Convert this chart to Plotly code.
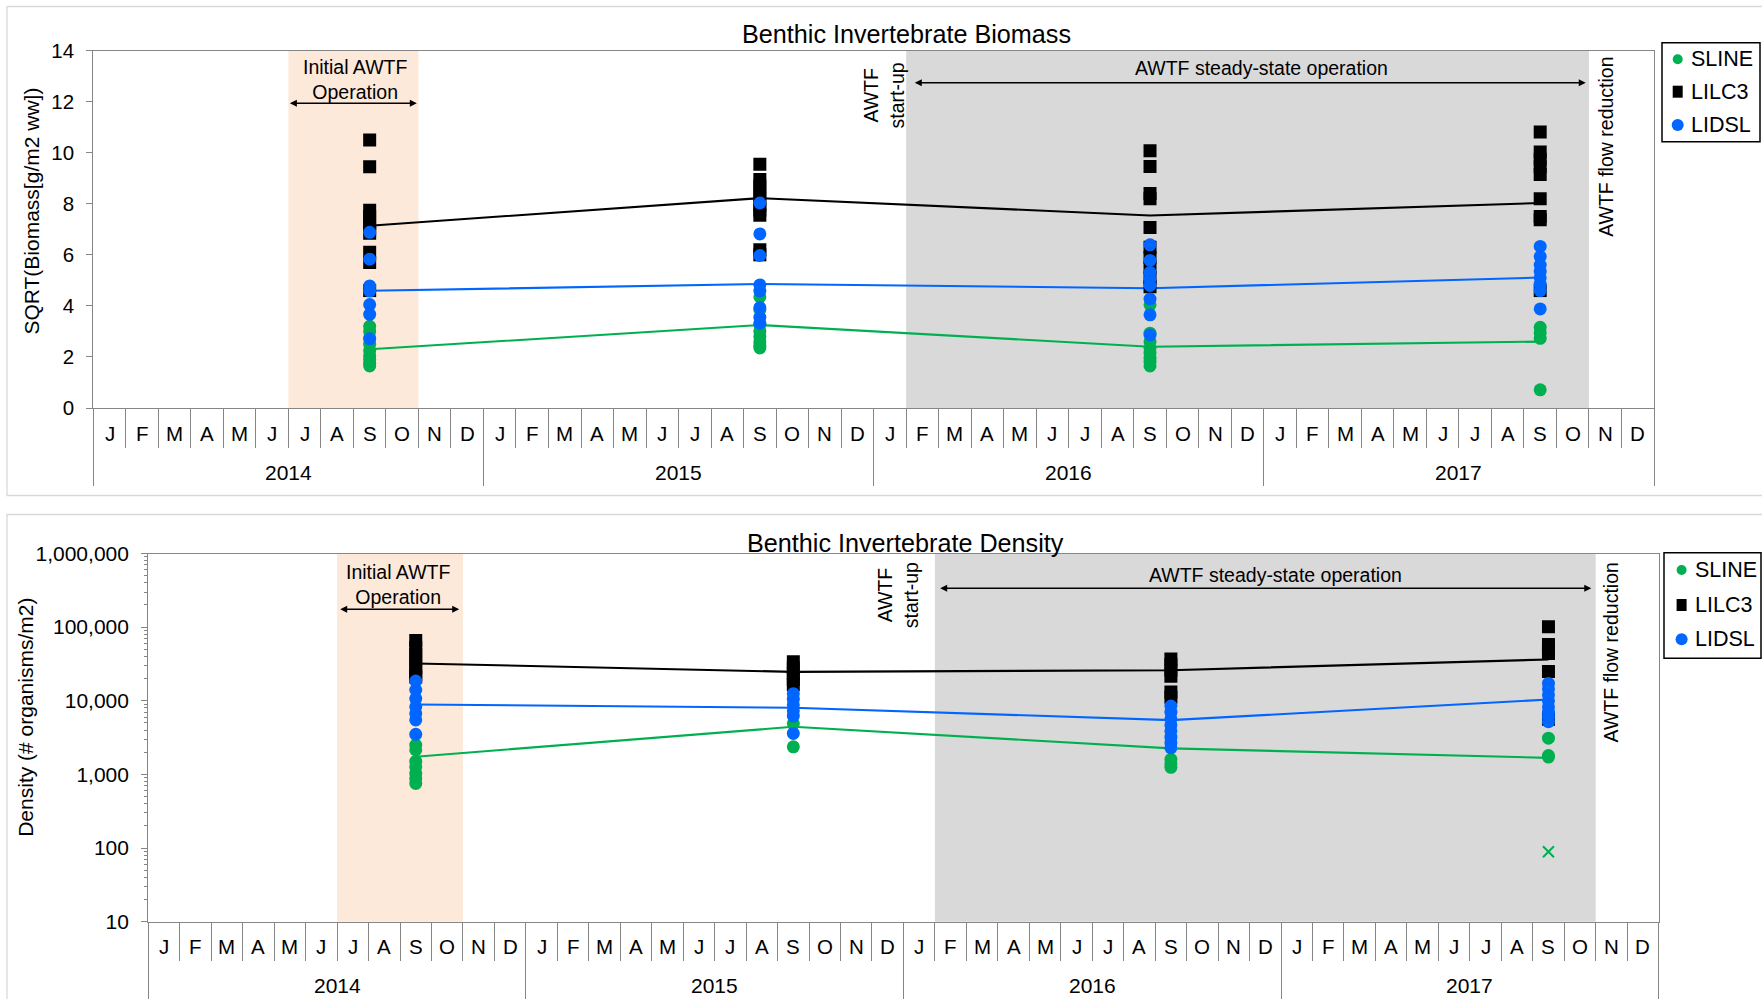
import plotly.graph_objects as go

W, H = 1762, 999
FONT = "Liberation Sans, Arial, sans-serif"

# ---------------------------------------------------------------- data
years = [2014, 2015, 2016, 2017]
month_labels = ["J", "F", "M", "A", "M", "J", "J", "A", "S", "O", "N", "D"]
sample_month = 9  # September survey

# operational periods, in months since Jan 2014 (start, end)
initial_operation = [6, 10]      # Jul-Oct 2014
steady_state = [25, 46]          # Feb 2016 - Oct 2017

series_names = ["SLINE", "LILC3", "LIDSL"]
series_colors = ["#00B050", "#000000", "#0066FF"]
series_symbols = ["circle", "square", "circle"]

# SQRT(biomass) per site, one list per survey year
biomass_sline = [
    [3.20, 3.00, 2.75, 2.50, 2.25, 2.05, 1.90, 1.75, 1.65],
    [4.35, 3.85, 3.25, 3.00, 2.80, 2.60, 2.45, 2.35],
    [4.04, 2.93, 2.60, 2.35, 2.15, 1.95, 1.80, 1.65],
    [3.16, 2.95, 2.73, 0.71],
]
biomass_lilc3 = [
    [10.50, 9.45, 7.75, 7.50, 7.25, 7.00, 6.85, 6.10, 5.70, 4.60],
    [9.55, 8.95, 8.70, 8.45, 8.20, 7.95, 7.75, 7.55, 6.20, 6.00],
    [10.08, 9.46, 8.40, 8.20, 7.07, 6.30, 5.90, 5.50, 5.10, 4.75],
    [10.81, 10.03, 9.75, 9.45, 9.15, 8.20, 7.50, 7.37, 4.60],
]
biomass_lidsl = [
    [6.88, 5.83, 4.78, 4.58, 4.05, 3.67, 2.71],
    [8.03, 6.82, 5.97, 4.82, 4.58, 3.93, 3.55, 3.32],
    [6.39, 5.78, 5.31, 5.05, 4.80, 4.27, 3.65, 2.86],
    [6.33, 5.93, 5.60, 5.35, 5.10, 4.85, 4.60, 3.88],
]
biomass_sline_mean = [2.30, 3.25, 2.40, 2.60]
biomass_lilc3_mean = [7.14, 8.22, 7.54, 8.03]
biomass_lidsl_mean = [4.59, 4.86, 4.69, 5.11]

# density (# organisms/m2) per site, one list per survey year
density_sline = [
    [2500, 2150, 1500, 1270, 1030, 880, 755],
    [4900, 2370],
    [1600, 1400, 1250],
    [3110, 1800, 1720],
]
density_lilc3 = [
    [66000, 53000, 43000, 35000, 28500, 23000, 21000],
    [34000, 28000, 23500, 19500, 16500],
    [37000, 31000, 26000, 21500, 13200, 11200],
    [101000, 58000, 50000, 44000, 25000, 5600],
]
density_lidsl = [
    [18500, 14000, 10700, 8300, 6700, 5500, 3500],
    [12500, 10500, 8800, 7300, 6200, 3600],
    [8500, 7000, 5700, 4700, 3900, 3200, 2700, 2300],
    [17200, 14500, 12000, 10000, 8300, 7000, 6000, 5200],
]
density_sline_mean = [1740, 4440, 2260, 1680]
density_lilc3_mean = [32100, 24700, 26000, 36400]
density_lidsl_mean = [8920, 8030, 5460, 10400]
density_sline_flag_year = [2017]
density_sline_flag_value = [89]

# ---------------------------------------------------------------- layout helpers
def px(x):
    return x / W


def py(y):
    return 1 - y / H


def month_pos(year):
    return (year - years[0]) * 12 + (sample_month - 1) + 0.5


AXIS_GRAY = "#868686"
N_MONTHS = 12 * len(years)

# pixel frames of the two plot areas: (left, top, right, bottom)
frames = {
    "top": (93.3, 50.6, 1654.0, 408.0),
    "bot": (148.3, 553.5, 1658.6, 921.7),
}

fig = go.Figure()


def add_series(xa, ya, samples, means, name, color, symbol):
    xs, ys = [], []
    for yr, vals in zip(years, samples):
        xs += [month_pos(yr)] * len(vals)
        ys += vals
    fig.add_trace(go.Scatter(
        x=[month_pos(yr) for yr in years], y=means, mode="lines",
        line=dict(color=color, width=2.1), xaxis=xa, yaxis=ya,
        showlegend=False, hoverinfo="skip"))
    return dict(x=xs, y=ys, mode="markers", name=name, xaxis=xa, yaxis=ya,
                marker=dict(color=color, symbol=symbol, size=13,
                            line=dict(width=0)), showlegend=False)


for xa, ya, groups in [
    ("x", "y", [(biomass_sline, biomass_sline_mean),
                (biomass_lilc3, biomass_lilc3_mean),
                (biomass_lidsl, biomass_lidsl_mean)]),
    ("x2", "y2", [(density_sline, density_sline_mean),
                  (density_lilc3, density_lilc3_mean),
                  (density_lidsl, density_lidsl_mean)]),
]:
    marker_traces = []
    for (samples, means), name, color, sym in zip(groups, series_names,
                                                   series_colors, series_symbols):
        marker_traces.append(add_series(xa, ya, samples, means, name, color, sym))
    for t in marker_traces:
        fig.add_trace(go.Scatter(**t))

fig.add_trace(go.Scatter(
    x=[month_pos(yr) for yr in density_sline_flag_year],
    y=density_sline_flag_value, mode="markers", xaxis="x2", yaxis="y2",
    marker=dict(symbol="x-thin", size=11, line=dict(color="#00B050", width=2)),
    showlegend=False))


def xaxis_cfg(frame, year_ticklen):
    l, t, r, b = frame
    return dict(
        domain=[px(l), px(r)], range=[0, N_MONTHS], tickmode="linear",
        tick0=0, dtick=12, ticks="outside", ticklen=year_ticklen,
        tickwidth=1.3, tickcolor=AXIS_GRAY, showticklabels=False,
        minor=dict(tick0=0, dtick=1, ticks="outside", ticklen=38.5,
                   tickwidth=1.3, tickcolor=AXIS_GRAY, showgrid=False),
        showline=True, linecolor=AXIS_GRAY, linewidth=1.3, mirror=True,
        showgrid=False, zeroline=False, automargin=False, fixedrange=True)


fig.update_layout(
    width=W, height=H, margin=dict(l=0, r=0, t=0, b=0, pad=0, autoexpand=False),
    paper_bgcolor="white", plot_bgcolor="white", showlegend=False,
    font=dict(family=FONT, color="black"),
    xaxis=dict(anchor="y", **xaxis_cfg(frames["top"], 77)),
    xaxis2=dict(anchor="y2", **xaxis_cfg(frames["bot"], 80)),
    yaxis=dict(
        anchor="x", domain=[py(frames["top"][3]), py(frames["top"][1])],
        range=[0, 14], dtick=2, ticks="outside", ticklen=6, tickwidth=1.3,
        tickcolor=AXIS_GRAY, showline=True, linecolor=AXIS_GRAY, linewidth=1.3,
        mirror=True, showgrid=False, zeroline=False, automargin=False,
        tickfont=dict(size=20.5, family=FONT), ticklabelstandoff=8),
    yaxis2=dict(
        anchor="x2", domain=[py(frames["bot"][3]), py(frames["bot"][1])],
        type="log", range=[1, 6], dtick=1, tickformat=",d", ticks="outside",
        ticklen=6, tickwidth=1.3, tickcolor=AXIS_GRAY,
        minor=dict(dtick="D1", ticks="outside", ticklen=3.5, tickwidth=1,
                   tickcolor=AXIS_GRAY, showgrid=False),
        showline=True, linecolor=AXIS_GRAY, linewidth=1.3, mirror=True,
        showgrid=False, zeroline=False, automargin=False,
        tickfont=dict(size=21, family=FONT), ticklabelstandoff=8),
)

shapes = []
annotations = []


def label(x, y, text, size, xref="paper", yref="paper", angle=0, xanchor="center"):
    annotations.append(dict(x=x, y=y, xref=xref, yref=yref, text=text,
                            showarrow=False, textangle=angle, xanchor=xanchor,
                            yanchor="middle", font=dict(size=size, family=FONT)))


# panel borders
shapes.append(dict(type="rect", xref="paper", yref="paper", x0=px(7), x1=1.01,
                   y0=py(495.5), y1=py(6.5), line=dict(color="#D9D9D9", width=1.3),
                   layer="below"))
shapes.append(dict(type="rect", xref="paper", yref="paper", x0=px(7), x1=1.01,
                   y0=-0.01, y1=py(514.5), line=dict(color="#D9D9D9", width=1.3),
                   layer="below"))

# operating-period shading
for xa, ya in [("x", "y"), ("x2", "y2")]:
    shapes.append(dict(type="rect", xref=xa, yref=ya + " domain",
                       x0=initial_operation[0], x1=initial_operation[1], y0=0, y1=1,
                       fillcolor="#FCE9DA", line=dict(width=0), layer="below"))
    shapes.append(dict(type="rect", xref=xa, yref=ya + " domain",
                       x0=steady_state[0], x1=steady_state[1], y0=0, y1=1,
                       fillcolor="#D9D9D9", line=dict(width=0), layer="below"))

# month and year labels beneath each axis
for xa, month_y, year_y in [("x", 433.3, 472.0), ("x2", 946.7, 985.0)]:
    for i in range(N_MONTHS):
        label(i + 0.5, py(month_y), month_labels[i % 12], 20.5, xref=xa)
    for k, yr in enumerate(years):
        label(12 * k + 6, py(year_y), str(yr), 21, xref=xa)

# titles
label(px(906.5), py(34.3), "Benthic Invertebrate Biomass", 25.2)
label(px(905), py(542.7), "Benthic Invertebrate Density", 25.2)
label(px(30.6), py(211), "SQRT(Biomass[g/m2 ww])", 21, angle=-90)
label(px(25.3), py(717.5), "Density (# organisms/m2)", 21, angle=-90)


def dom(frame, ypix):
    l, t, r, b = frame
    return (b - ypix) / (b - t)


# period notes and arrows
notes = {
    "top": dict(xa="x", ya="y", init_x=8.05, init_y=79.5, init_arrow=(6.0, 9.95, 103.3),
                start_x=24.3, start_y=95, steady_x=35.92, steady_y=68.5,
                steady_arrow=(25.22, 45.9, 82.7), flow_x=46.5, flow_y=146.5),
    "bot": dict(xa="x2", ya="y2", init_x=7.94, init_y=584.3, init_arrow=(6.05, 9.88, 609.3),
                start_x=23.8, start_y=595, steady_x=35.83, steady_y=575,
                steady_arrow=(25.12, 45.86, 588.3), flow_x=46.5, flow_y=652),
}
for key, n in notes.items():
    fr = frames[key]
    yd = n["ya"] + " domain"
    label(n["init_x"], dom(fr, n["init_y"]), "Initial AWTF<br>Operation", 19.5,
          xref=n["xa"], yref=yd)
    label(n["start_x"], dom(fr, n["start_y"]), "AWTF<br>start-up", 19.5,
          xref=n["xa"], yref=yd, angle=-90)
    label(n["steady_x"], dom(fr, n["steady_y"]), "AWTF steady-state operation", 19.5,
          xref=n["xa"], yref=yd)
    label(n["flow_x"], dom(fr, n["flow_y"]), "AWTF flow reduction", 19.5,
          xref=n["xa"], yref=yd, angle=-90)
    for (a0, a1, ay) in [n["init_arrow"], n["steady_arrow"]]:
        annotations.append(dict(
            x=a1, y=dom(fr, ay), xref=n["xa"], yref=yd,
            ax=a0, ay=dom(fr, ay), axref=n["xa"], ayref=yd,
            text="", showarrow=True, arrowhead=2, startarrowhead=2,
            arrowside="end+start", arrowsize=1, startarrowsize=1,
            arrowwidth=1.4, arrowcolor="black", standoff=0, startstandoff=0))

# legends
legend_boxes = [
    dict(box=(1662, 42.7, 1760, 141.7), sym_x=1677.7, text_x=1688.6,
         rows=[59.3, 91.7, 125.0]),
    dict(box=(1664, 552.7, 1761, 658.3), sym_x=1681.6, text_x=1693.0,
         rows=[570.0, 605.0, 639.3]),
]
sym_sizes = [(5, 5), (5, 6), (6, 6)]
for lg in legend_boxes:
    x0, y0, x1, y1 = lg["box"]
    shapes.append(dict(type="rect", xref="paper", yref="paper", x0=px(x0), x1=px(x1),
                       y0=py(y1), y1=py(y0), line=dict(color="black", width=1.5),
                       fillcolor="white"))
    for name, color, sym, ry, (hw, hh) in zip(series_names, series_colors,
                                               series_symbols, lg["rows"], sym_sizes):
        shapes.append(dict(type="circle" if sym == "circle" else "rect",
                           xref="paper", yref="paper", xsizemode="pixel",
                           ysizemode="pixel", xanchor=px(lg["sym_x"]), yanchor=py(ry),
                           x0=-hw, x1=hw, y0=-hh, y1=hh, fillcolor=color,
                           line=dict(width=0)))
        label(px(lg["text_x"]), py(ry), name, 21.5, xanchor="left")

fig.update_layout(shapes=shapes, annotations=annotations)
fig.write_html("out.html")
